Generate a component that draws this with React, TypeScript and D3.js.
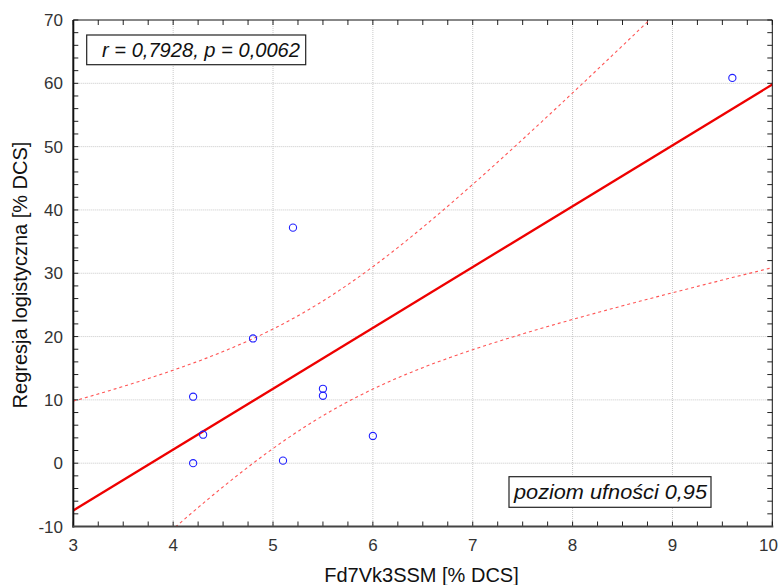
import React from "react";
import * as d3 from "d3";

const xValues = [4.2, 4.2, 4.3, 4.8, 5.2, 5.1, 5.5, 5.5, 6.0, 9.6];
const yValues = [0.0, 10.5, 4.5, 19.7, 37.2, 0.4, 11.75, 10.65, 4.3, 60.85];
const xTicks = [3, 4, 5, 6, 7, 8, 9, 10];
const yTicks = [-10, 0, 10, 20, 30, 40, 50, 60, 70];
const statsLabel = "r = 0,7928, p = 0,0062";
const confLabel = "poziom ufności 0,95";
const xTitle = "Fd7Vk3SSM [% DCS]";
const yTitle = "Regresja logistyczna [% DCS]";
const tCrit = 2.306;

const W = 780, H = 585;
const L = 73.3, R = 772.3, T = 20, B = 526.5;

export default function App() {
  const x = d3.scaleLinear().domain([3, 10]).range([L, R]);
  const y = d3.scaleLinear().domain([-10, 70]).range([B, T]);

  const n = xValues.length;
  const mx = d3.mean(xValues)!;
  const my = d3.mean(yValues)!;
  let sxx = 0, sxy = 0;
  for (let i = 0; i < n; i++) {
    sxx += (xValues[i] - mx) ** 2;
    sxy += (xValues[i] - mx) * (yValues[i] - my);
  }
  const b = sxy / sxx;
  const a = my - b * mx;
  let sse = 0;
  for (let i = 0; i < n; i++) sse += (yValues[i] - a - b * xValues[i]) ** 2;
  const s = Math.sqrt(sse / (n - 2));
  const grid = d3.range(3, 10.001, 0.02);
  const band = (sign: number) =>
    grid.map((xv) => {
      const se = s * Math.sqrt(1 / n + (xv - mx) ** 2 / sxx);
      return [xv, a + b * xv + sign * tCrit * se] as [number, number];
    });
  const line = d3.line<[number, number]>().x((d) => x(d[0])).y((d) => y(d[1]));

  const minorX = d3.range(3, 10.001, 0.25);
  const minorY = d3.range(-10, 70.001, 2);
  const tk = 5;
  const font = "'Liberation Sans', Arial, sans-serif";
  const lastX = xTicks[xTicks.length - 1];

  return (
    <svg width={W} height={H} style={{ position: "absolute", left: 0, top: 0, background: "#fff" }}>
      <defs>
        <clipPath id="plot">
          <rect x={L} y={T} width={R - L} height={B - T} />
        </clipPath>
      </defs>
      <rect x={0} y={0} width={W} height={H} fill="#fff" />
      {/* grid */}
      {xTicks.slice(1, -1).map((v) => (
        <line key={"gx" + v} x1={x(v)} x2={x(v)} y1={T} y2={B} stroke="#c8c8c8" strokeWidth={1} strokeDasharray="1,1" />
      ))}
      {yTicks.slice(1, -1).map((v) => (
        <line key={"gy" + v} x1={L} x2={R} y1={y(v)} y2={y(v)} stroke="#c8c8c8" strokeWidth={1} strokeDasharray="1,1" />
      ))}
      {/* minor ticks */}
      {minorX.map((v, i) => (
        <g key={"tx" + i}>
          <line x1={x(v)} x2={x(v)} y1={B} y2={B - tk} stroke="#222" strokeWidth={1} />
          <line x1={x(v)} x2={x(v)} y1={T} y2={T + tk} stroke="#222" strokeWidth={1} />
        </g>
      ))}
      {minorY.map((v, i) => (
        <g key={"ty" + i}>
          <line x1={L} x2={L + tk} y1={y(v)} y2={y(v)} stroke="#222" strokeWidth={1} />
          <line x1={R} x2={R - tk} y1={y(v)} y2={y(v)} stroke="#222" strokeWidth={1} />
        </g>
      ))}
      {/* CI and regression */}
      <g clipPath="url(#plot)">
        <path d={line(band(1))!} fill="none" stroke="#ff5555" strokeWidth={1.1} strokeDasharray="3,3" />
        <path d={line(band(-1))!} fill="none" stroke="#ff5555" strokeWidth={1.1} strokeDasharray="3,3" />
        <path d={line([[3, a + b * 3], [10, a + b * 10]])!} fill="none" stroke="#ee0000" strokeWidth={2.3} />
      </g>
      {/* points */}
      {xValues.map((xv, i) => (
        <circle key={"p" + i} cx={x(xv)} cy={y(yValues[i])} r={3.6} fill="none" stroke="#2020ff" strokeWidth={1.1} />
      ))}
      {/* frame */}
      <line x1={L} x2={R} y1={T} y2={T} stroke="#111" strokeWidth={1} />
      <line x1={R} x2={R} y1={T} y2={B} stroke="#111" strokeWidth={1} />
      <line x1={L} x2={L} y1={T} y2={B + 1} stroke="#111" strokeWidth={2} />
      <line x1={L - 1} x2={R + 1} y1={B} y2={B} stroke="#444" strokeWidth={2} />
      {/* tick labels */}
      {xTicks.map((v) => (
        <text
          key={"lx" + v}
          x={v === lastX ? W - 2 : x(v)}
          y={551}
          textAnchor={v === lastX ? "end" : "middle"}
          fontFamily={font}
          fontSize={17}
          fill="#333"
        >
          {v}
        </text>
      ))}
      {yTicks.map((v) => (
        <text key={"ly" + v} x={63} y={y(v) + 6} textAnchor="end" fontFamily={font} fontSize={17} fill="#333">
          {v}
        </text>
      ))}
      {/* titles */}
      <text x={421.5} y={582} textAnchor="middle" fontFamily={font} fontSize={20} fill="#111">
        {xTitle}
      </text>
      <text transform={`translate(27,275) rotate(-90)`} textAnchor="middle" fontFamily={font} fontSize={20} fill="#111">
        {yTitle}
      </text>
      {/* annotation boxes */}
      <rect x={86.7} y={35} width={219} height={29.7} fill="#fff" stroke="#222" strokeWidth={1.2} />
      <text x={102} y={56.5} fontFamily={font} fontSize={20} fontStyle="italic" fill="#111" textLength={198} lengthAdjust="spacingAndGlyphs">
        {statsLabel}
      </text>
      <rect x={509} y={476.7} width={202} height={30.6} fill="#fff" stroke="#222" strokeWidth={1.2} />
      <text x={514} y={499} fontFamily={font} fontSize={20} fontStyle="italic" fill="#111" textLength={193} lengthAdjust="spacingAndGlyphs">
        {confLabel}
      </text>
    </svg>
  );
}
